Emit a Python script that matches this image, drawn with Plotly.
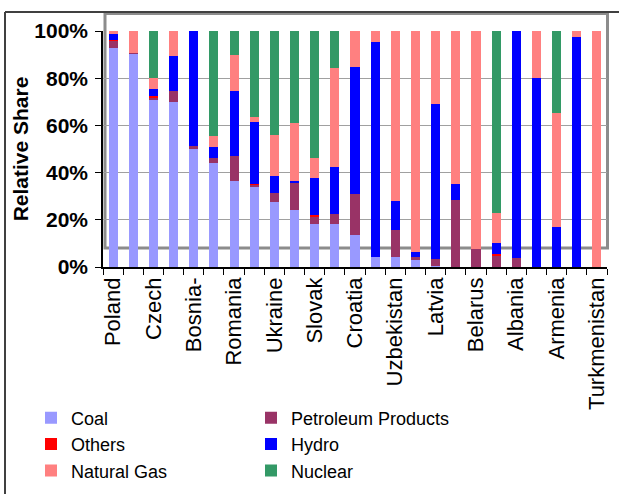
import plotly.graph_objects as go

# ---- data (percent of electricity generation) ----
countries = ["Poland", "Estonia", "Czech", "Macedonia", "Bosnia-", "Bulgaria", "Romania",
             "Slovenia", "Ukraine", "Hungary", "Slovak", "Russia", "Croatia", "Kyrgyzstan",
             "Uzbekistan", "Moldova", "Latvia", "Azerbaijan", "Belarus", "Lithuania",
             "Albania", "Georgia", "Armenia", "Tajikistan", "Turkmenistan"]
tick_labels = ["Poland", "", "Czech", "", "Bosnia-", "", "Romania", "", "Ukraine", "",
               "Slovak", "", "Croatia", "", "Uzbekistan", "", "Latvia", "", "Belarus", "",
               "Albania", "", "Armenia", "", "Turkmenistan"]

coal = [92.9, 90.4, 70.7, 69.9, 50.4, 44.0, 36.4, 33.8, 27.4, 24.0, 18.1, 18.1, 13.4,
        4.1, 4.1, 2.8, 0.6, 0, 0, 0, 0, 0, 0, 0, 0]
petroleum = [2.9, 0.4, 1.2, 4.6, 0.8, 2.1, 10.6, 1.0, 3.9, 11.9, 3.5, 4.2, 17.6,
             0, 11.5, 1.3, 2.7, 28.3, 7.5, 4.5, 3.7, 0.2, 0, 0, 0]
others = [0.5, 0, 0.5, 0, 0, 0, 0, 0.4, 0, 0, 0.5, 0, 0,
          0, 0, 0, 0, 0, 0, 0.9, 0, 0, 0, 0, 0]
hydro = [2.6, 0, 3.0, 14.9, 48.8, 4.7, 27.5, 26.2, 7.2, 0.5, 15.5, 20.0, 53.7,
         91.2, 12.3, 2.1, 65.7, 6.8, 0, 4.6, 96.3, 79.9, 16.8, 97.5, 0]
natural_gas = [1.1, 9.2, 4.7, 10.6, 0, 4.6, 15.3, 2.1, 17.4, 24.6, 8.5, 42.0, 15.3,
               4.7, 72.1, 93.8, 31.0, 64.9, 92.5, 12.8, 0, 19.9, 48.4, 2.5, 100]
nuclear = [0, 0, 19.9, 0, 0, 44.6, 10.2, 36.5, 44.1, 39.0, 53.9, 15.7, 0,
           0, 0, 0, 0, 0, 0, 77.2, 0, 0, 34.8, 0, 0]

y_ticks = [0, 20, 40, 60, 80, 100]

series = [
    ("Coal", coal, "#9999FF"),
    ("Petroleum Products", petroleum, "#993366"),
    ("Others", others, "#FF0000"),
    ("Hydro", hydro, "#0000FF"),
    ("Natural Gas", natural_gas, "#FF8080"),
    ("Nuclear", nuclear, "#339966"),
]

FONT = "Arial, Liberation Sans, sans-serif"

fig = go.Figure()
for name, vals, col in series:
    fig.add_trace(go.Bar(x=countries, y=vals, name=name, marker_color=col,
                         marker_line_width=0))

W, H = 619, 494
L, R, T, B = 103, 12, 31, 227
pw, ph = W - L - R, H - T - B


def px_x(p):
    return (p - L) / pw


def px_y(p):
    return (H - B - p) / ph


fig.update_layout(
    width=W, height=H,
    margin=dict(l=L, r=R, t=T, b=B, autoexpand=False),
    barmode="stack",
    bargap=0.55,
    plot_bgcolor="white",
    paper_bgcolor="white",
    font=dict(family=FONT, color="black"),
    showlegend=True,
    legend=dict(
        orientation="h",
        x=px_x(31), xanchor="left",
        y=px_y(399.5), yanchor="top",
        entrywidth=175, entrywidthmode="pixels",
        font=dict(size=18, family=FONT),
        traceorder="normal",
        bgcolor="rgba(0,0,0,0)",
    ),
    shapes=[
        # Excel plot-area frame
        dict(type="rect", xref="paper", yref="paper",
             x0=px_x(105), x1=px_x(607.5), y0=px_y(248), y1=px_y(13.5),
             line=dict(color="#8c8c8c", width=3), layer="below"),
        # outer chart border (top and left)
        dict(type="line", xref="paper", yref="paper",
             x0=px_x(5), x1=px_x(620), y0=px_y(12), y1=px_y(12),
             line=dict(color="#404040", width=2)),
        dict(type="line", xref="paper", yref="paper",
             x0=px_x(5), x1=px_x(5), y0=px_y(12), y1=px_y(495),
             line=dict(color="#404040", width=2)),
    ],
)

fig.update_xaxes(
    type="category",
    tickmode="array", tickvals=countries, ticktext=tick_labels,
    tickangle=-90,
    tickfont=dict(size=22, family=FONT),
    ticks="outside", ticklen=6, tickcolor="black", tickwidth=1,
    tickson="boundaries",
    showline=True, linecolor="black", linewidth=1.5,
    showgrid=False,
    automargin=False,
)
fig.update_yaxes(
    range=[0, 100],
    tickmode="array", tickvals=y_ticks, ticktext=[f"<b>{v}%</b>" for v in y_ticks],
    tickfont=dict(size=21, family=FONT),
    ticks="outside", ticklen=6, tickcolor="black", tickwidth=1,
    ticklabelstandoff=3,
    showline=True, linecolor="black", linewidth=1.5,
    showgrid=True, gridcolor="#a0a0a0", gridwidth=1,
    title=dict(text="<b>Relative Share</b>", font=dict(size=21, family=FONT), standoff=0),
    automargin=False,
)

fig.write_html("out.html", config={"displayModeBar": False},
               post_script="document.body.style.margin='0';")
